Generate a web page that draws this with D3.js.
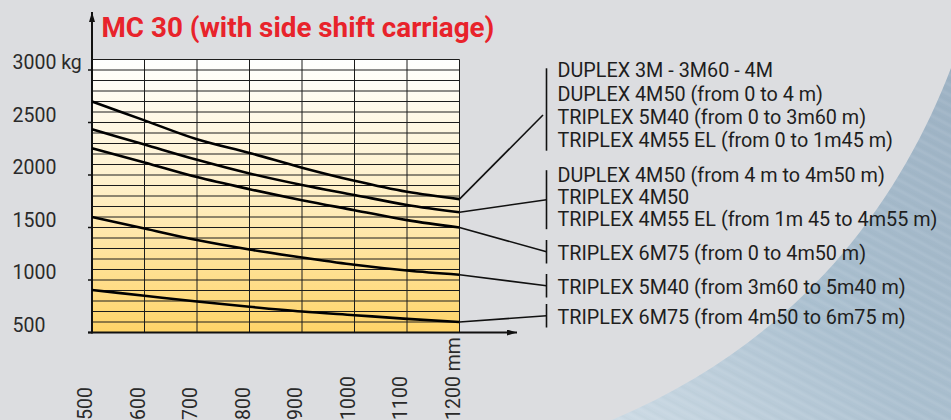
<!DOCTYPE html>
<html>
<head>
<meta charset="utf-8">
<script src="https://cdn.jsdelivr.net/npm/d3@7"></script>
<style>
  html, body { margin: 0; padding: 0; background: #dcdde0; }
  svg { display: block; font-family: Roboto, "Liberation Sans", sans-serif; }
</style>
</head>
<body>
<script>
// load distance (mm) on the x axis
const distances = [500, 600, 700, 800, 900, 1000, 1100, 1200];
const yTicks = [500, 1000, 1500, 2000, 2500, 3000];

// capacity (kg) per curve, top to bottom
const curveA = [2700, 2520, 2340, 2210, 2070, 1945, 1840, 1770];
const curveB = [2435, 2290, 2145, 2015, 1905, 1810, 1715, 1645];
const curveC = [2255, 2120, 1980, 1865, 1760, 1665, 1570, 1500];
const curveD = [1600, 1490, 1380, 1290, 1215, 1145, 1090, 1050];
const curveE = [905, 850, 795, 745, 700, 665, 630, 600];

const legendA = ["DUPLEX 3M - 3M60 - 4M", "DUPLEX 4M50 (from 0 to 4 m)", "TRIPLEX 5M40 (from 0 to 3m60 m)", "TRIPLEX 4M55 EL (from 0 to 1m45 m)"];
const legendB = ["DUPLEX 4M50 (from 4 m to 4m50 m)", "TRIPLEX 4M50", "TRIPLEX 4M55 EL (from 1m 45 to 4m55 m)"];
const legendC = ["TRIPLEX 6M75 (from 0 to 4m50 m)"];
const legendD = ["TRIPLEX 5M40 (from 3m60 to 5m40 m)"];
const legendE = ["TRIPLEX 6M75 (from 4m50 to 6m75 m)"];

const title = "MC 30 (with side shift carriage)";

const W = 951, H = 420;

let xScale = d3.scaleLinear().domain([500, 1200]).range([92, 459.5]);
let yScale = d3.scaleLinear().domain([500, 3100]).range([332.5, 59.5]);

const svg = d3.select("body").append("svg")
    .attr("width", W)
    .attr("height", H);

const defs = svg.append("defs");

// plot background: white at the top to warm yellow at the bottom
const fillGrad = defs.append("linearGradient")
    .attr("id", "plotFill").attr("x1", 0).attr("y1", 0).attr("x2", 0).attr("y2", 1);
fillGrad.append("stop").attr("offset", "0%").attr("stop-color", "#ffffff");
fillGrad.append("stop").attr("offset", "45%").attr("stop-color", "#fff1cc");
fillGrad.append("stop").attr("offset", "100%").attr("stop-color", "#ffd468");

// the blue-grey swoosh in the corner
const blueGrad = defs.append("linearGradient")
    .attr("id", "blueFill").attr("x1", 1).attr("y1", 0).attr("x2", 0).attr("y2", 1);
blueGrad.append("stop").attr("offset", "0%").attr("stop-color", "#9cb1c3");
blueGrad.append("stop").attr("offset", "55%").attr("stop-color", "#abc0d0");
blueGrad.append("stop").attr("offset", "100%").attr("stop-color", "#cddbe5");

const streaks = defs.append("pattern")
    .attr("id", "streaks").attr("patternUnits", "userSpaceOnUse")
    .attr("width", 9).attr("height", 40)
    .attr("patternTransform", "rotate(-62)");
streaks.append("line").attr("x1", 2).attr("y1", 0).attr("x2", 2).attr("y2", 40)
    .attr("stroke", "#ffffff").attr("stroke-opacity", 0.07).attr("stroke-width", 3);
streaks.append("line").attr("x1", 6).attr("y1", 0).attr("x2", 6).attr("y2", 40)
    .attr("stroke", "#6f8aa0").attr("stroke-opacity", 0.05).attr("stroke-width", 1.5);

svg.append("rect").attr("width", W).attr("height", H).attr("fill", "#dcdde0");
svg.append("path")
    .attr("d", "M951,68 C902,196 806,338 612,420 L951,420 Z")
    .attr("fill", "url(#blueFill)");
svg.append("path")
    .attr("d", "M951,68 C902,196 806,338 612,420 L951,420 Z")
    .attr("fill", "url(#streaks)");

// plot rectangle
const [x0, x1] = xScale.range();
const yTop = yScale(3100), yBot = yScale(500);
svg.append("rect")
    .attr("x", x0).attr("y", yTop)
    .attr("width", x1 - x0).attr("height", yBot - yTop)
    .attr("fill", "url(#plotFill)");

// grid: every 100 kg and every 100 mm
const grid = svg.append("g").attr("stroke", "#1c1c1c").attr("stroke-width", 1);
grid.selectAll(".h")
    .data(d3.range(600, 3101, 100))
  .enter().append("line")
    .attr("x1", x0).attr("x2", x1)
    .attr("y1", d => yScale(d)).attr("y2", d => yScale(d));
grid.selectAll(".v")
    .data(distances.slice(1))
  .enter().append("line")
    .attr("x1", d => xScale(d)).attr("x2", d => xScale(d))
    .attr("y1", yTop).attr("y2", yBot);

// axes with arrow heads
defs.append("marker")
    .attr("id", "arrow").attr("viewBox", "0 0 10 6")
    .attr("refX", 10).attr("refY", 3)
    .attr("markerWidth", 10).attr("markerHeight", 6)
    .attr("markerUnits", "userSpaceOnUse")
    .attr("orient", "auto")
  .append("path").attr("d", "M0,0 L10,3 L0,6 Z").attr("fill", "#111");

svg.append("line")
    .attr("x1", x0).attr("y1", yBot + 1).attr("x2", x0).attr("y2", 12)
    .attr("stroke", "#111").attr("stroke-width", 2)
    .attr("marker-end", "url(#arrow)");
svg.append("line")
    .attr("x1", x0 - 4).attr("y1", yBot).attr("x2", 517).attr("y2", yBot)
    .attr("stroke", "#111").attr("stroke-width", 2)
    .attr("marker-end", "url(#arrow)");

svg.selectAll(".ytick")
    .data(yTicks)
  .enter().append("line")
    .attr("x1", x0 - 4).attr("x2", x0)
    .attr("y1", d => yScale(d)).attr("y2", d => yScale(d))
    .attr("stroke", "#111").attr("stroke-width", 1.5);

svg.selectAll(".ylabel")
    .data(yTicks)
  .enter().append("text")
    .attr("x", 12.5)
    .attr("y", d => yScale(d) - 1)
    .attr("font-size", 19.5)
    .attr("fill", "#2a2a2a")
    .text(d => d === 3000 ? d + " kg" : d);

svg.selectAll(".xlabel")
    .data(distances)
  .enter().append("text")
    .attr("transform", d => "translate(" + xScale(d) + "," + 420 + ") rotate(-90)")
    .attr("font-size", 19.5)
    .attr("fill", "#2a2a2a")
    .text(d => d === 1200 ? d + " mm" : d);

// title
svg.append("text")
    .attr("x", 101.5).attr("y", 36.5)
    .attr("font-size", 27.8)
    .attr("font-weight", "bold")
    .attr("fill", "#e8232b")
    .text(title);

// load curves
const curves = [curveA, curveB, curveC, curveD, curveE];
let line = d3.line()
    .x((d, i) => xScale(distances[i]))
    .y(d => yScale(d))
    .curve(d3.curveMonotoneX);

svg.selectAll(".curve")
    .data(curves)
  .enter().append("path")
    .attr("d", line)
    .attr("fill", "none")
    .attr("stroke", "#000")
    .attr("stroke-width", 2.6);

// legend groups with brackets and leader lines
const legends = [legendA, legendB, legendC, legendD, legendE];
const firstBaseline = [77.3, 181.7, 260, 294, 324];
const lineStep = [23.3, 22, 0, 0, 0];
const bracketX = 546.5, textX = 557.5;

legends.forEach(function(lines, g) {
  const base = firstBaseline[g];
  const last = base + lineStep[g] * (lines.length - 1);
  const top = lines.length > 1 ? base - 9 - (g === 1 ? 2.5 : 0) : base - 20;
  const bottom = last + 3.5;

  svg.append("line")
      .attr("x1", bracketX).attr("x2", bracketX)
      .attr("y1", top).attr("y2", bottom)
      .attr("stroke", "#111").attr("stroke-width", 1.6);

  const endVal = curves[g][curves[g].length - 1];
  const tx = g === 0 ? bracketX - 3.5 : bracketX;
  const ty = g === 0 ? 115 : (top + bottom) / 2;
  svg.append("line")
      .attr("x1", xScale(1200)).attr("y1", yScale(endVal))
      .attr("x2", tx).attr("y2", ty)
      .attr("stroke", "#111").attr("stroke-width", 1.6);

  svg.selectAll(null)
      .data(lines)
    .enter().append("text")
      .attr("x", textX)
      .attr("y", (d, i) => base + i * lineStep[g])
      .attr("font-size", 19.8)
      .attr("fill", "#1e1e1e")
      .text(d => d);
});
</script>
</body>
</html>
